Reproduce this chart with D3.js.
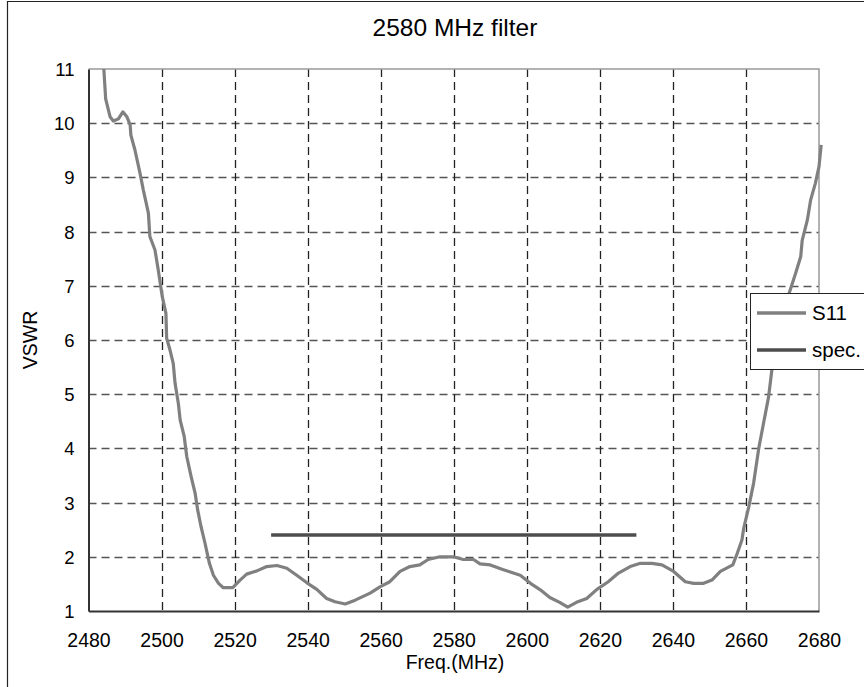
<!DOCTYPE html>
<html><head><meta charset="utf-8">
<script src="https://cdn.jsdelivr.net/npm/d3@7"></script>
<style>html,body{margin:0;padding:0;background:#fff;}svg{display:block;font-family:"Liberation Sans",Arial,sans-serif;}</style>
</head><body>
<svg id="chart" width="864" height="687"></svg>
<script>
const title = "2580 MHz filter";
const xLabel = "Freq.(MHz)";
const yLabel = "VSWR";
const xTicks = [2480,2500,2520,2540,2560,2580,2600,2620,2640,2660,2680];
const yTicks = [1,2,3,4,5,6,7,8,9,10,11];
const seriesNames = ["S11","spec."];
const freq = [2484.2,2484.7,2485.9,2486.8,2488.2,2489.4,2490.5,2491.4,2491.6,2492.7,2494.1,2495.0,2496.4,2496.8,2498.2,2499.1,2500.2,2501.2,2501.4,2502.3,2503.2,2503.7,2504.6,2505.1,2506.2,2506.9,2508.1,2509.2,2509.9,2510.8,2511.9,2513.1,2514.2,2515.6,2516.9,2519.5,2521.5,2523.3,2526.1,2528.8,2531.6,2534.3,2537.0,2539.8,2542.5,2545.2,2547.5,2550.3,2553.0,2557.1,2559.9,2562.5,2565.3,2568.0,2570.7,2573.0,2576.2,2579.9,2582.6,2585.4,2587.2,2590.0,2593.2,2595.9,2598.2,2601.0,2603.7,2606.3,2609.0,2611.2,2613.6,2616.4,2619.2,2622.3,2625.1,2628.3,2631.1,2634.3,2637.0,2640.2,2643.4,2645.7,2648.4,2650.7,2653.0,2656.4,2657.6,2658.9,2659.4,2660.8,2662.1,2663.5,2664.8,2666.2,2667.1,2668.5,2670.0,2671.8,2673.6,2675.0,2675.4,2676.8,2677.7,2679.0,2680.0,2680.6];
const s11 = [11.0,10.45,10.12,10.04,10.08,10.21,10.12,9.97,9.78,9.51,9.08,8.77,8.34,7.91,7.66,7.29,6.80,6.49,6.03,5.82,5.57,5.20,4.83,4.52,4.22,3.85,3.48,3.17,2.86,2.56,2.25,1.88,1.66,1.51,1.43,1.43,1.57,1.68,1.74,1.82,1.84,1.79,1.66,1.52,1.40,1.23,1.17,1.13,1.20,1.33,1.45,1.54,1.73,1.82,1.85,1.95,2.00,2.00,1.95,1.95,1.87,1.85,1.77,1.71,1.66,1.51,1.39,1.25,1.16,1.07,1.16,1.23,1.40,1.54,1.70,1.82,1.88,1.88,1.85,1.73,1.54,1.51,1.51,1.57,1.73,1.85,2.06,2.31,2.53,2.93,3.36,4.00,4.46,4.95,5.45,5.95,6.45,6.86,7.23,7.54,7.84,8.21,8.58,8.89,9.20,9.60];
const specFreq = [2530, 2630];
const specVal = [2.4, 2.4];

const svg = d3.select("#chart");
const L = 88.5, R = 819, T = 69, B = 611;
const x = d3.scaleLinear().domain([2480,2680]).range([L,R]);
const y = d3.scaleLinear().domain([1,11]).range([B,T]);

// outer frame
svg.append("path").attr("d",`M7.5,700 V1.5 H900`).attr("fill","none").attr("stroke","#222").attr("stroke-width",1.2);

// title
svg.append("text").attr("x",455).attr("y",36).attr("text-anchor","middle")
  .attr("font-size",24.5).attr("fill","#000").text(title);

// grid
const g = svg.append("g");
g.selectAll(".hg").data(yTicks.filter(v=>v>1&&v<11)).join("line")
  .attr("x1",L).attr("x2",R).attr("y1",d=>Math.round(y(d))+0.5).attr("y2",d=>Math.round(y(d))+0.5)
  .attr("stroke","#555").attr("stroke-width",1.3).attr("stroke-dasharray","8,5");
g.selectAll(".vg").data(xTicks.filter(v=>v>2480&&v<2680)).join("line")
  .attr("y1",T).attr("y2",B).attr("x1",d=>Math.round(x(d))+0.5).attr("x2",d=>Math.round(x(d))+0.5)
  .attr("stroke","#222").attr("stroke-width",1.3).attr("stroke-dasharray","8,5");

// plot border top/right
svg.append("path").attr("d",`M${L},${T} H${R} V${B}`).attr("fill","none").attr("stroke","#999").attr("stroke-width",1.5);

// axes
const xAxis = d3.axisBottom(x).tickValues(xTicks).tickSize(0).tickPadding(0).tickFormat(d3.format("d"));
const yAxis = d3.axisLeft(y).tickValues(yTicks).tickSize(0).tickPadding(0).tickFormat(d3.format("d"));
const gx = svg.append("g").attr("transform",`translate(0,${B})`).call(xAxis);
const gy = svg.append("g").attr("transform",`translate(${L},0)`).call(yAxis);
[gx,gy].forEach(a=>{a.select(".domain").attr("stroke","#333").attr("stroke-width",2);
  a.selectAll("text").attr("font-family","Liberation Sans, Arial, sans-serif").attr("fill","#000");});
gx.selectAll("text").attr("font-size",19.5).attr("dy",0).attr("y",36);
gy.selectAll("text").attr("font-size",18.5).attr("x",-14).attr("dy","0.35em");

// axis titles
svg.append("text").attr("x",455).attr("y",669).attr("text-anchor","middle").attr("font-size",19.5).text(xLabel);
svg.append("text").attr("transform","translate(37,340) rotate(-90)").attr("text-anchor","middle").attr("font-size",19.5).text(yLabel);

// series
const line = d3.line().x(d=>x(d[0])).y(d=>y(d[1]));
const s11Data = freq.map((f,i)=>[f,s11[i]]);
const specData = specFreq.map((f,i)=>[f,specVal[i]]);
svg.append("path").datum(specData).attr("d",line).attr("fill","none").attr("stroke","#4d4d4d").attr("stroke-width",3.5);
svg.append("path").datum(s11Data).attr("d",line).attr("fill","none").attr("stroke","#808080").attr("stroke-width",3.2).attr("stroke-linejoin","round");

// legend
const lg = svg.append("g");
lg.append("rect").attr("x",750.5).attr("y",293.5).attr("width",130).attr("height",76).attr("fill","#fff").attr("stroke","#222").attr("stroke-width",1);
const colors = ["#808080","#4d4d4d"];
seriesNames.forEach((n,i)=>{
  const yy = 313 + i*37;
  lg.append("line").attr("x1",757).attr("x2",806).attr("y1",yy).attr("y2",yy).attr("stroke",colors[i]).attr("stroke-width",3.5);
  lg.append("text").attr("x",812).attr("y",yy).attr("dy","0.35em").attr("font-size",20.5).text(n);
});
</script>
</body></html>
